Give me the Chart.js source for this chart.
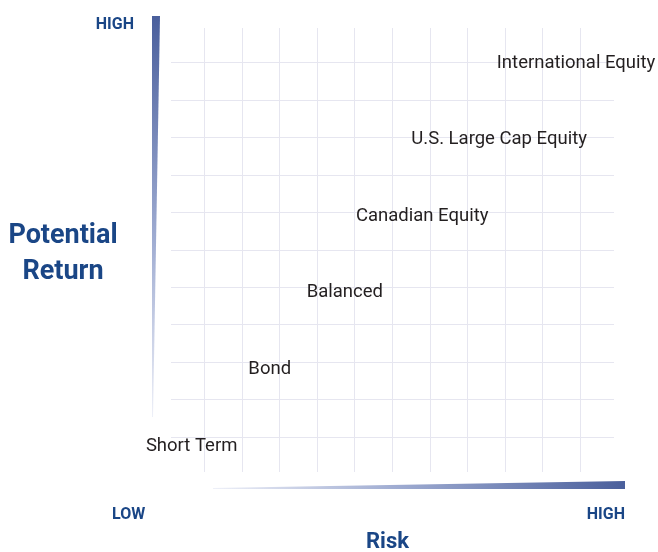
<!DOCTYPE html>
<html>
<head>
<meta charset="utf-8">
<script src="https://cdn.jsdelivr.net/npm/chart.js@4/dist/chart.umd.min.js"></script>
<style>
  html, body { margin: 0; padding: 0; background: #fff; }
  #wrap { width: 658px; height: 552px; }
</style>
</head>
<body>
<div id="wrap"><canvas id="risque"></canvas></div>
<script>
// Catégories et positions (unités de grille : risque en x, rendement en y)
const categories = ['Short Term', 'Bond', 'Balanced', 'Canadian Equity', 'U.S. Large Cap Equity', 'International Equity'];
const risque = [-0.35, 1.73, 3.73, 5.79, 7.84, 9.89];
const rendement = [-0.19, 1.87, 3.92, 5.96, 8.0, 10.05];

// Textes des axes
const titreY = ['Potential', 'Return'];
const titreX = 'Risk';
const basHaut = ['LOW', 'HIGH'];

const bleu = '#1a4686';
const police = 'Roboto, "Noto Sans", sans-serif';

// Plugin : écrit le nom de chaque catégorie à sa position
const etiquettes = {
    id: 'etiquettes',
    afterDatasetsDraw(chart) {
        const ctx = chart.ctx;
        const meta = chart.getDatasetMeta(0);
        const taille = 18.5;
        ctx.save();
        ctx.font = taille + 'px ' + police;
        ctx.fillStyle = '#231f20';
        ctx.textAlign = 'center';
        ctx.textBaseline = 'alphabetic';
        meta.data.forEach((pt, i) => {
            ctx.fillText(categories[i], pt.x, pt.y + taille * 0.711 / 2);
        });
        ctx.restore();
    }
};

// Plugin : barres en dégradé + titres des axes
const decor = {
    id: 'decor',
    afterDraw(chart) {
        const ctx = chart.ctx;
        const a = chart.chartArea;
        ctx.save();

        // barre verticale (rendement)
        const x0 = a.left - 19, y0 = a.top - 12, y1 = a.bottom - 55;
        let g = ctx.createLinearGradient(0, y0, 0, y1);
        g.addColorStop(0, '#4a5f9c');
        g.addColorStop(0.55, '#9eabd1');
        g.addColorStop(1, '#eef0f8');
        ctx.fillStyle = g;
        ctx.beginPath();
        ctx.moveTo(x0, y0);
        ctx.lineTo(x0 + 8, y0);
        ctx.lineTo(x0 + 1, y1);
        ctx.lineTo(x0, y1);
        ctx.closePath();
        ctx.fill();

        // barre horizontale (risque)
        const bx0 = a.left + 42, bx1 = a.right + 11, by = a.bottom + 17;
        g = ctx.createLinearGradient(bx0, 0, bx1, 0);
        g.addColorStop(0, '#eef0f8');
        g.addColorStop(0.45, '#9eabd1');
        g.addColorStop(1, '#4a5f9c');
        ctx.fillStyle = g;
        ctx.beginPath();
        ctx.moveTo(bx0, by);
        ctx.lineTo(bx0, by - 1);
        ctx.lineTo(bx1, by - 8);
        ctx.lineTo(bx1, by);
        ctx.closePath();
        ctx.fill();

        ctx.fillStyle = bleu;
        ctx.textBaseline = 'alphabetic';

        // HIGH en haut à gauche
        ctx.font = 'bold 16px ' + police;
        ctx.textAlign = 'right';
        ctx.fillText(basHaut[1], a.left - 37, a.top + 1);

        // LOW / HIGH en bas
        ctx.textAlign = 'left';
        ctx.fillText(basHaut[0], a.left - 59, a.bottom + 47);
        ctx.textAlign = 'right';
        ctx.fillText(basHaut[1], a.right + 11, a.bottom + 47);

        // Potential Return
        ctx.font = 'bold 27px ' + police;
        ctx.textAlign = 'center';
        ctx.fillText(titreY[0], 63, 243);
        ctx.fillText(titreY[1], 63, 279);

        // Risk
        ctx.font = 'bold 22px ' + police;
        ctx.fillText(titreX, (a.left + a.right) / 2 - 5, a.bottom + 76);

        ctx.restore();
    }
};

const grille = {
    color: '#e6e6f0',
    lineWidth: 1,
    drawTicks: false
};

new Chart(document.getElementById('risque').getContext('2d'), {
    type: 'scatter',
    data: {
        datasets: [{
            data: risque.map((x, i) => ({ x: x, y: rendement[i] })),
            pointRadius: 0,
            pointHoverRadius: 0
        }]
    },
    options: {
        responsive: true,
        maintainAspectRatio: false,
        animation: false,
        layout: { padding: { left: 171, top: 28, right: 44, bottom: 80 } },
        plugins: {
            legend: { display: false },
            tooltip: { enabled: false }
        },
        scales: {
            x: {
                type: 'linear',
                min: -0.9,
                max: 10.9,
                ticks: { display: false, stepSize: 1, includeBounds: false },
                grid: grille,
                border: { display: false }
            },
            y: {
                type: 'linear',
                min: -0.93,
                max: 10.93,
                ticks: { display: false, stepSize: 1, includeBounds: false },
                grid: grille,
                border: { display: false }
            }
        }
    },
    plugins: [etiquettes, decor]
});
</script>
</body>
</html>
